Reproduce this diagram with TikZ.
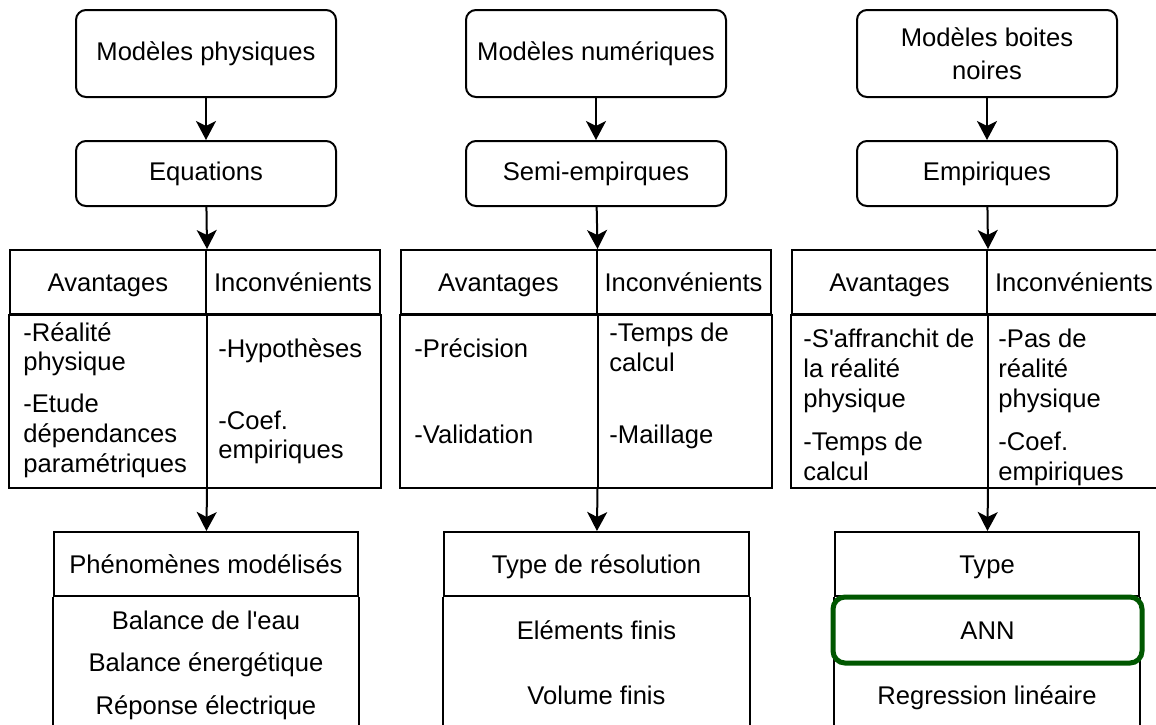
\documentclass[tikz,border=0pt]{standalone}
\usepackage{fontspec}
\setmainfont{Liberation Sans}
\usetikzlibrary{arrows.meta, positioning, calc}
\definecolor{frame}{HTML}{000000}
\definecolor{annline}{HTML}{005700}

\begin{document}
\begin{tikzpicture}[
    x=0.5pt, y=-0.5pt,
    every node/.style={font=\fontsize{12.8}{15}\selectfont},
    topbox/.style={draw=frame, line width=1pt, rounded corners=5pt, align=center,
        minimum width=130pt, inner sep=0pt},
    hcell/.style={draw=frame, line width=1pt, minimum height=32pt, inner sep=0pt,
        text height=9.2pt, text depth=0pt},
    item/.style={anchor=base west, inner sep=0pt},
    row/.style={anchor=base, inner sep=0pt},
    arr/.style={line width=1pt, -{Stealth[length=9.5pt, width=10pt, inset=2.5pt]}},
]
\useasboundingbox (0,0) rectangle (1156,724);
\clip (0,0) rectangle (1156,724);

% the three kinds of model
\node[topbox, minimum height=43.5pt] (phys) at (206,53.5) {Modèles physiques};
\node[topbox, minimum height=43.5pt] (num) at (596,53.5) {Modèles numériques};
\node[topbox, minimum height=43.5pt] (boit) at (987,53.5) {Modèles boites\\[1.5pt] noires};

\node[topbox, minimum height=32.5pt] (eq) at (206,173.5) {Equations};
\node[topbox, minimum height=32.5pt] (semi) at (596,173.5) {Semi-empirques};
\node[topbox, minimum height=32.5pt] (emp) at (987,173.5) {Empiriques};

\draw[arr] (phys) -- (eq);
\draw[arr] (num) -- (semi);
\draw[arr] (boit) -- (emp);

% tables avantages / inconvenients
\node[hcell, minimum width=98pt] (av1) at (108,282) {Avantages};
\node[hcell, minimum width=87pt] (in1) at (293,282) {Inconvénients};
\node[hcell, minimum width=98pt] (av2) at (498.5,282) {Avantages};
\node[hcell, minimum width=87pt] (in2) at (683.5,282) {Inconvénients};
\node[hcell, minimum width=97.5pt] (av3) at (889.5,282) {Avantages};
\node[hcell, minimum width=87pt] (in3) at (1074,282) {Inconvénients};

\foreach \a/\b/\k in {av1/in1/1, av2/in2/2, av3/in3/3}{
    \coordinate (bot\k) at (\a.south east |- 0,488);
    \draw[line width=1pt] (\a.south west) rectangle (\b.south east |- 0,488);
    \draw[line width=1pt] (\a.south east) -- (bot\k);
}

\draw[arr] (eq) -- (av1.north east);
\draw[arr] (semi) -- (av2.north east);
\draw[arr] (emp) -- (av3.north east);

% contents of the tables
\foreach \y/\t [count=\n] in {341/-Réalité, 370/physique, 412/-Etude,
        442/dépendances, 472/paramétriques}
    \node[item] (pa\n) at (23,\y) {\t};
\foreach \y/\t [count=\n] in {357/-Hypothèses, 429/-Coef., 458/empiriques}
    \node[item] (pi\n) at (218,\y) {\t};
\foreach \y/\t [count=\n] in {357/-Précision, 443/-Validation}
    \node[item] (na\n) at (414,\y) {\t};
\foreach \y/\t [count=\n] in {341/-Temps de, 371/calcul, 443/-Maillage}
    \node[item] (ni\n) at (609,\y) {\t};
\foreach \y/\t [count=\n] in {347/-S\textquotesingle affranchit de, 377/la réalité,
        407/physique, 450/-Temps de, 480/calcul}
    \node[item] (ba\n) at (803,\y) {\t};
\foreach \y/\t [count=\n] in {347/-Pas de, 377/réalité, 407/physique,
        450/-Coef., 480/empiriques}
    \node[item] (bi\n) at (998,\y) {\t};

% lower boxes
\node[hcell, minimum width=152pt] (phen) at (206,564) {Phénomènes modélisés};
\node[hcell, minimum width=152.5pt] (reso) at (596.5,564) {Type de résolution};
\node[hcell, minimum width=152pt] (type) at (987,564) {Type};
\foreach \h in {phen, reso, type}
    \draw[line width=1pt] (\h.south west) -- (\h.south west |- 0,760)
        (\h.south east) -- (\h.south east |- 0,760);

\draw[arr] (bot1) -- (phen);
\draw[arr] (bot2) -- (reso);
\draw[arr] (bot3) -- (type);

\node[row] (eau) at (206,629) {Balance de l\textquotesingle eau};
\node[row] (ener) at (206,671) {Balance énergétique};
\node[row] (elec) at (206,714) {Réponse électrique};
\node[row] (elem) at (596.5,639) {Eléments finis};
\node[row] (volu) at (596.5,704) {Volume finis};
\node[draw=annline, line width=2.5pt, rounded corners=6pt, minimum width=154.5pt,
    minimum height=33pt, fill=white, text height=9.2pt, text depth=0pt]
    (ann) at (987.5,630) {ANN};
\node[row] (regr) at (987,704) {Regression linéaire};

\end{tikzpicture}
\end{document}
